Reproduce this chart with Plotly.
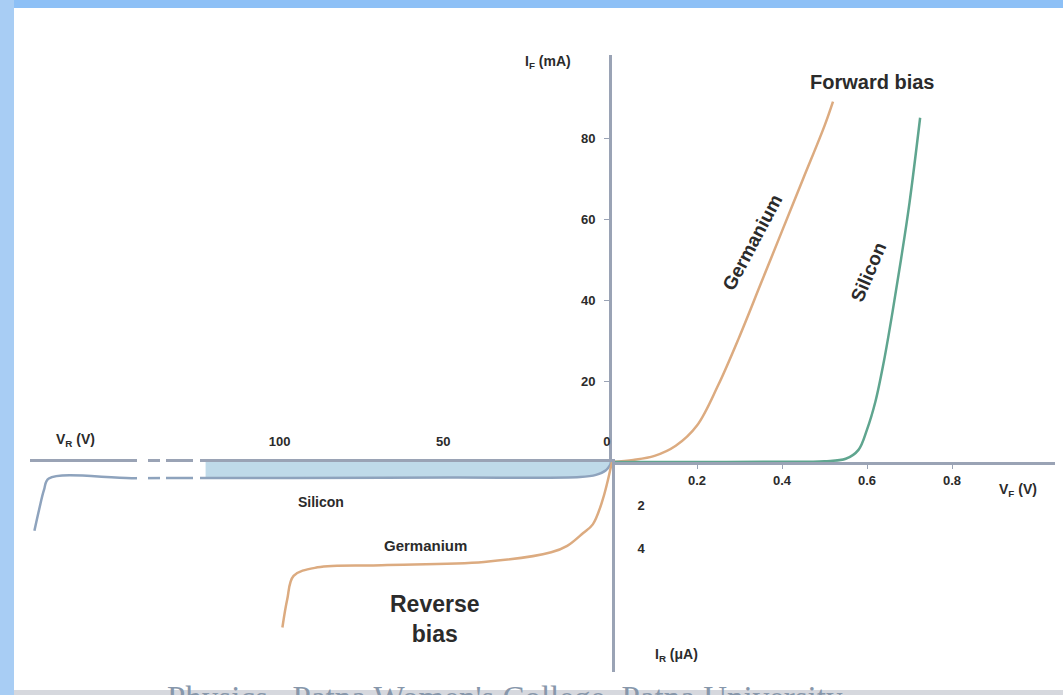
import plotly.graph_objects as go

W, H = 1063, 695

# ---------------- data ----------------
# Forward bias (V_F in volts, I_F in mA)
ge_fwd_v = [0, 0.05, 0.10, 0.15, 0.20, 0.25, 0.30, 0.35, 0.40, 0.45, 0.50, 0.52]
ge_fwd_i = [0, 0.5, 1.5, 4, 9, 19, 31, 44, 57, 70, 83, 89]
si_fwd_v = [0, 0.20, 0.40, 0.50, 0.55, 0.58, 0.60, 0.62, 0.64, 0.66, 0.68, 0.70, 0.725]
si_fwd_i = [0, 0, 0.05, 0.2, 0.8, 3, 8, 15, 25, 37, 50, 64, 85]

# Reverse bias (V_R in volts, I_R in microamps)
ge_rev_v = [0, 3, 6, 9, 14, 19, 40, 72, 92, 99.5, 101.5, 103]
ge_rev_i = [0, 1.8, 2.9, 3.3, 3.9, 4.2, 4.65, 4.8, 4.9, 5.3, 6.4, 7.7]
si_rev_v = [0, 2, 5, 10, 50, 100, 127, 150, 176, 177.5, 179, 180.5]
si_rev_i = [0, 0.4, 0.6, 0.7, 0.72, 0.74, 0.745, 0.75, 0.77, 1.3, 2.2, 3.2]

fwd_v_ticks = [0.2, 0.4, 0.6, 0.8]
fwd_v_labels = ["0.2", "0.4", "0.6", "0.8"]
fwd_i_ticks = [20, 40, 60, 80]
fwd_i_labels = ["20", "40", "60", "80"]
rev_v_ticks = [100, 50, 0]
rev_v_labels = ["100", "50", "0"]
rev_i_ticks = [2, 4]
rev_i_labels = ["2", "4"]

# ---------------- geometry helpers ----------------
def px(x):
    return x / W

def py(y):
    return 1 - y / H

OX, OY = 612, 462          # origin in pixels
FX1, FY1 = 1055, 55        # forward quadrant extents
RX0, RY1 = 30, 672         # reverse quadrant extents
FXS, FYS = 425.0, 4.05     # px per V, px per mA
RXS, RYS = 3.2, 21.5       # px per V, px per uA

AX_COL = "#9aa3b5"
GE_COL = "#dcab80"
SI_COL = "#5fa58f"
SIR_COL = "#8ea3bd"
TXT = "#2b2b2b"

fig = go.Figure()

# blue band between axis and silicon reverse curve
fig.add_trace(go.Scatter(x=si_rev_v[:7], y=si_rev_i[:7], mode="lines", line=dict(width=0, shape="spline"),
                         fill="tozeroy", fillcolor="rgba(170,205,225,0.75)", xaxis="x2", yaxis="y2",
                         showlegend=False, hoverinfo="skip"))

# forward traces
fig.add_trace(go.Scatter(x=ge_fwd_v, y=ge_fwd_i, mode="lines", line=dict(color=GE_COL, width=2.5, shape="spline"),
                         xaxis="x", yaxis="y", showlegend=False))
fig.add_trace(go.Scatter(x=si_fwd_v, y=si_fwd_i, mode="lines", line=dict(color=SI_COL, width=2.5, shape="spline"),
                         xaxis="x", yaxis="y", showlegend=False))

# reverse traces
fig.add_trace(go.Scatter(x=si_rev_v, y=si_rev_i, mode="lines", line=dict(color=SIR_COL, width=2.5, shape="spline"),
                         xaxis="x2", yaxis="y2", showlegend=False))
fig.add_trace(go.Scatter(x=ge_rev_v, y=ge_rev_i, mode="lines", line=dict(color=GE_COL, width=2.5, shape="spline"),
                         xaxis="x2", yaxis="y2", showlegend=False))

tickfont = dict(family="Liberation Sans, Arial", size=13, color=TXT, weight="bold")

fig.update_layout(
    width=W, height=H,
    margin=dict(l=0, r=0, t=0, b=0),
    paper_bgcolor="white", plot_bgcolor="rgba(0,0,0,0)",
    xaxis=dict(domain=[px(OX), px(FX1)], range=[0, (FX1 - OX) / FXS], anchor="y",
               showgrid=False, zeroline=False, showline=True, linecolor=AX_COL, linewidth=3,
               tickvals=fwd_v_ticks, ticktext=fwd_v_labels, ticks="outside", ticklen=4, tickcolor=AX_COL,
               tickfont=tickfont),
    yaxis=dict(domain=[py(OY), py(FY1)], range=[0, (OY - FY1) / FYS], anchor="x",
               showgrid=False, zeroline=False, showline=True, linecolor=AX_COL, linewidth=3,
               tickvals=fwd_i_ticks, ticktext=fwd_i_labels, ticks="outside", ticklen=5, tickcolor=AX_COL,
               tickfont=tickfont, ticklabelstandoff=6),
    xaxis2=dict(domain=[px(RX0), px(OX)], range=[(OX - RX0) / RXS, 0], anchor="y2", side="top",
                showgrid=False, zeroline=False, showline=True, linecolor=AX_COL, linewidth=3,
                tickvals=rev_v_ticks, ticktext=rev_v_labels, ticks="", tickfont=tickfont,
                ticklabelposition="outside left", ticklabelstandoff=8),
    yaxis2=dict(domain=[py(RY1), py(OY)], range=[(RY1 - OY) / RYS, 0], anchor="x2", side="right",
                showgrid=False, zeroline=False, showline=True, linecolor=AX_COL, linewidth=3,
                tickvals=rev_i_ticks, ticktext=rev_i_labels, ticks="", tickfont=tickfont,
                ticklabelstandoff=20),
)

shapes = []
# axis break gaps on the reverse axis
for a, b in [(137, 148), (160, 166), (193, 200)]:
    shapes.append(dict(type="rect", xref="paper", yref="paper", x0=px(a), x1=px(b), y0=py(488), y1=py(455),
                       fillcolor="white", line=dict(width=0), layer="above"))
# slide frame
shapes.append(dict(type="rect", xref="paper", yref="paper", x0=0, x1=1, y0=py(8), y1=1,
                   fillcolor="#8dc0f6", line=dict(width=0), layer="above"))
shapes.append(dict(type="rect", xref="paper", yref="paper", x0=0, x1=px(14), y0=0, y1=1,
                   fillcolor="#a8cdf4", line=dict(width=0), layer="above"))
shapes.append(dict(type="rect", xref="paper", yref="paper", x0=0, x1=1, y0=0, y1=py(690),
                   fillcolor="#d6d8de", line=dict(width=0), layer="below"))
fig.update_layout(shapes=shapes)

ann = []
def label(x, y, text, size=14, bold=False, angle=0, color=TXT, family="Liberation Sans, Arial", xanchor="center"):
    ann.append(dict(xref="paper", yref="paper", x=px(x), y=py(y), text=text, showarrow=False,
                    textangle=angle, xanchor=xanchor, yanchor="middle",
                    font=dict(family=family, size=size, color=color, weight="bold" if bold else "normal")))

label(548, 62, "I<sub>F</sub> (mA)", size=14, bold=True)
label(1018, 490, "V<sub>F</sub> (V)", size=14, bold=True)
label(75, 440, "V<sub>R</sub> (V)", size=14, bold=True)
label(676, 655, "I<sub>R</sub> (μA)", size=14, bold=True)
label(872, 82, "Forward bias", size=20, bold=True)
label(752, 242, "Germanium", size=19, bold=True, angle=-62)
label(868, 272, "Silicon", size=19, bold=True, angle=-67)
label(321, 502, "Silicon", size=14, bold=True)
label(425, 545, "Germanium", size=15, bold=True)
label(435, 619, "Reverse<br>bias", size=23, bold=True)
ann.append(dict(xref="paper", yref="paper", x=px(505), y=py(698), text="Physics , Patna Women's College, Patna University",
                showarrow=False, xanchor="center", yanchor="middle",
                font=dict(family="Liberation Serif, Times New Roman", size=33, color="#8797ab")))
fig.update_layout(annotations=ann)

fig.write_html("out.html", config={"displayModeBar": False},
               post_script="document.body.style.margin='0';document.body.style.overflow='hidden';")
